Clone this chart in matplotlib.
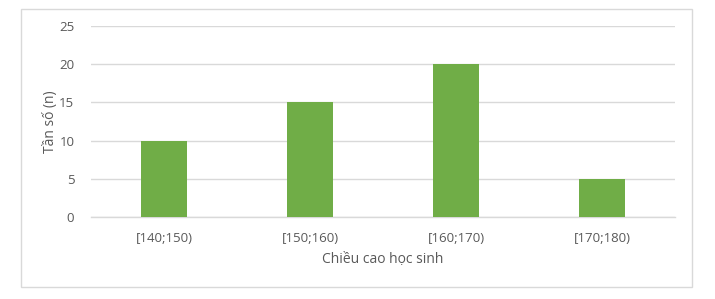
import matplotlib
matplotlib.use("Agg")
import matplotlib.pyplot as plt
from matplotlib.patches import Rectangle

# data
categories = ["[140;150)", "[150;160)", "[160;170)", "[170;180)"]
counts = [10, 15, 20, 5]
yticks = [0, 5, 10, 15, 20, 25]

plt.rcParams['font.family'] = ['Open Sans', 'DejaVu Sans']
text_color = "#595959"
grid_color = "#d9d9d9"
bar_color = "#70ad47"

fig = plt.figure(figsize=(7.15, 2.99), dpi=100)
ax = fig.add_axes([91 / 715, 1 - 217 / 299, 584 / 715, 191 / 299])

# outer chart border
fig.patches.append(Rectangle((21 / 715, 1 - 287 / 299), 671 / 715, 278 / 299,
                             transform=fig.transFigure, fill=False,
                             edgecolor=grid_color, linewidth=1.0))

x = list(range(len(categories)))
ax.bar(x, counts, width=0.315, color=bar_color, zorder=3)

ax.set_xlim(-0.5, len(categories) - 0.5)
ax.set_ylim(0, 25)
ax.set_yticks(yticks)
ax.set_xticks(x)
ax.set_xticklabels(categories)
ax.yaxis.grid(True, color=grid_color, linewidth=1.0, zorder=0)

for side in ["top", "right", "left"]:
    ax.spines[side].set_visible(False)
ax.spines["bottom"].set_color(grid_color)
ax.spines["bottom"].set_linewidth(1.0)
ax.tick_params(length=0, colors=text_color, labelsize=9.5)
ax.tick_params(axis="y", pad=12)
ax.tick_params(axis="x", pad=11)

ax.set_ylabel("Tần số (n)", color=text_color, fontsize=10, labelpad=1)
ax.set_xlabel("Chiều cao học sinh", color=text_color, fontsize=10, labelpad=5)

fig.savefig("out.png", dpi=100)
